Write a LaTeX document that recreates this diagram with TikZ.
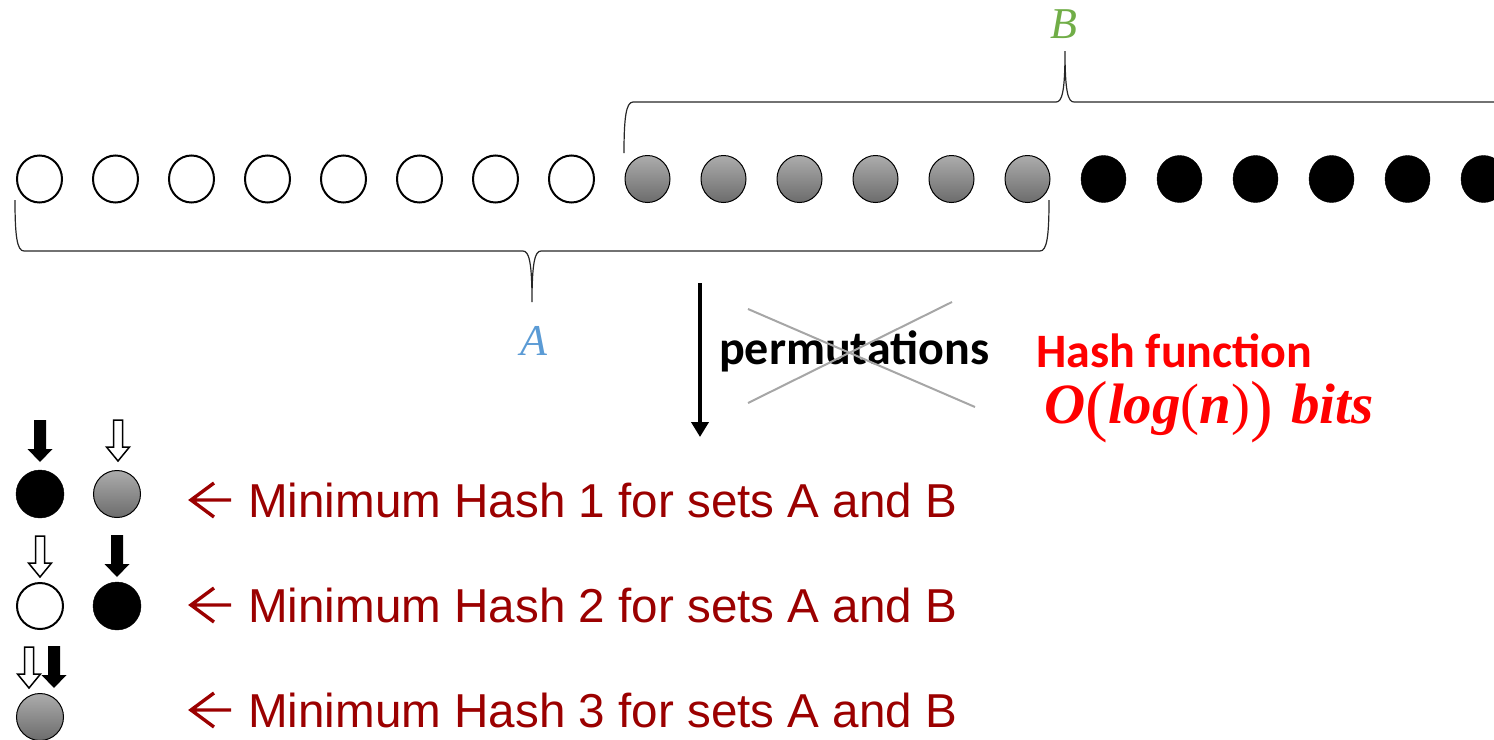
\documentclass[tikz,border=0pt]{standalone}
\usepackage{fontspec}
\setmainfont{Liberation Sans}
\newfontfamily\calibri{Carlito}
\newfontfamily\serifmath{Liberation Serif}
\usetikzlibrary{shapes.geometric,arrows.meta}

\definecolor{setA}{RGB}{91,155,213}
\definecolor{setB}{RGB}{112,173,71}
\definecolor{hashred}{RGB}{155,0,0}
\definecolor{crossgray}{RGB}{166,166,166}
\definecolor{graytop}{RGB}{172,172,172}
\definecolor{graybot}{RGB}{108,108,108}

% bold italic letters, upright parentheses (outer pair enlarged)
\newcommand{\bivar}[1]{{\bfseries\itshape #1}}
\newcommand{\uprn}[1]{{\mdseries\upshape #1}}
\newcommand{\bigprn}[1]{\raisebox{-5pt}{\fontsize{68}{68}\selectfont\mdseries\upshape #1}}

\tikzset{
  elem/.style={ellipse, minimum width=45pt, minimum height=47pt, inner sep=0pt},
  wdot/.style={elem, draw=black, line width=2pt, fill=white},
  gdot/.style={elem, draw=black, line width=1pt, top color=graytop, bottom color=graybot},
  bdot/.style={elem, draw=black, fill=black},
  brace/.style={draw=black!85, line width=1.2pt},
  txt/.style={inner sep=0pt, anchor=base west},
  mintext/.style={txt, text=hashred, font=\fontsize{47.6}{56}\selectfont},
  crossline/.style={draw=crossgray, line width=2pt},
  solidarrow/.pic={\fill[black] (-6,-42) -- (6,-42) -- (6,-13) -- (12.5,-13) -- (0,0)
                    -- (-12.5,-13) -- (-6,-13) -- cycle;},
  hollowarrow/.pic={\draw[fill=white, line width=1.5pt] (-4.5,-41) -- (4.5,-41) -- (4.5,-14)
                    -- (11.5,-14) -- (0,0) -- (-11.5,-14) -- (-4.5,-14) -- cycle;},
  % thin left-pointing arrow in front of each caption (origin = tip)
  backarrow/.pic={\draw[hashred, line width=3.4pt, line cap=butt, line join=miter]
                    (23,-17) -- (0,0) -- (23,17) (0,0) -- (40,0);}
}

\begin{document}
\begin{tikzpicture}[x=1pt, y=-1pt]
\useasboundingbox (0,0) rectangle (1494,739);

% the row of elements: outside both sets, in A and B, only in B
\foreach \i in {0,...,7}  \node[wdot] (w\i) at ({39.5+76*\i},179) {};
\foreach \i in {0,...,5}  \node[gdot] (g\i) at ({647.5+76*\i},179) {};
\foreach \i in {0,...,5}  \node[bdot] (b\i) at ({1103.5+76*\i},179) {};

% brace over set B
\draw[brace] (624,153) .. controls (624,118) and (626,102) .. (633,102)
  -- (1056,102) .. controls (1062,102) and (1065,92) .. (1065,51)
  .. controls (1065,92) and (1068,102) .. (1074,102) -- (1494,102);
\node[text=setB, font=\serifmath\itshape\fontsize{44}{50}\selectfont] (labB) at (1064,24) {B};

% brace under set A
\draw[brace] (15,200) .. controls (15,236) and (17,251) .. (24,251)
  -- (523,251) .. controls (529,251) and (532,262) .. (532,302)
  .. controls (532,262) and (535,251) .. (541,251)
  -- (1040,251) .. controls (1047,251) and (1049,236) .. (1049,200);
\node[text=setA, font=\serifmath\itshape\fontsize{44}{50}\selectfont] (labA) at (534,341) {A};

% permutation step, replaced by a hash function
\coordinate (pstart) at (700,283);
\coordinate (pend) at (700,437);
\draw[line width=4pt, -{Triangle[width=17pt,length=15pt]}] (pstart) -- (pend);
\node[txt, font=\calibri\bfseries\fontsize{48}{56}\selectfont] (perm) at (719,364) {permutations};
\draw[crossline] (748,309) -- (975,407);
\draw[crossline] (748,403) -- (952,302);
\node[txt, text=red, font=\calibri\bfseries\fontsize{48}{56}\selectfont] (hashf) at (1036,367) {Hash function};
\node[txt, text=red, font=\serifmath\fontsize{57}{62}\selectfont] (bits) at (1044,423) {\bivar{O}\bigprn{(}\bivar{log}\uprn{(}\bivar{n}\uprn{)}\bigprn{)}\hspace{4pt} \bivar{bits}};

% minimum hash 1
\pic at (40,462) {solidarrow};
\pic at (118,461) {hollowarrow};
\node[bdot, minimum width=48pt, minimum height=48pt] (m1a) at (40,494) {};
\node[gdot, minimum width=47pt, minimum height=47pt] (m1b) at (117,494) {};
\pic at (191,500) {backarrow};
\node[mintext] (t1) at (248,517) {Minimum Hash 1 for sets A and B};

% minimum hash 2
\pic at (40,577) {hollowarrow};
\pic at (117,577) {solidarrow};
\node[wdot, minimum width=46pt, minimum height=46pt] (m2a) at (40,606) {};
\node[bdot, minimum width=48pt, minimum height=48pt] (m2b) at (117,606) {};
\pic at (191,605) {backarrow};
\node[mintext] (t2) at (248,622) {Minimum Hash 2 for sets A and B};

% minimum hash 3
\pic at (29,688) {hollowarrow};
\pic at (54,688) {solidarrow};
\node[gdot, minimum width=47pt, minimum height=47pt] (m3a) at (40,717) {};
\pic at (191,710) {backarrow};
\node[mintext] (t3) at (248,727) {Minimum Hash 3 for sets A and B};
\end{tikzpicture}
\end{document}
